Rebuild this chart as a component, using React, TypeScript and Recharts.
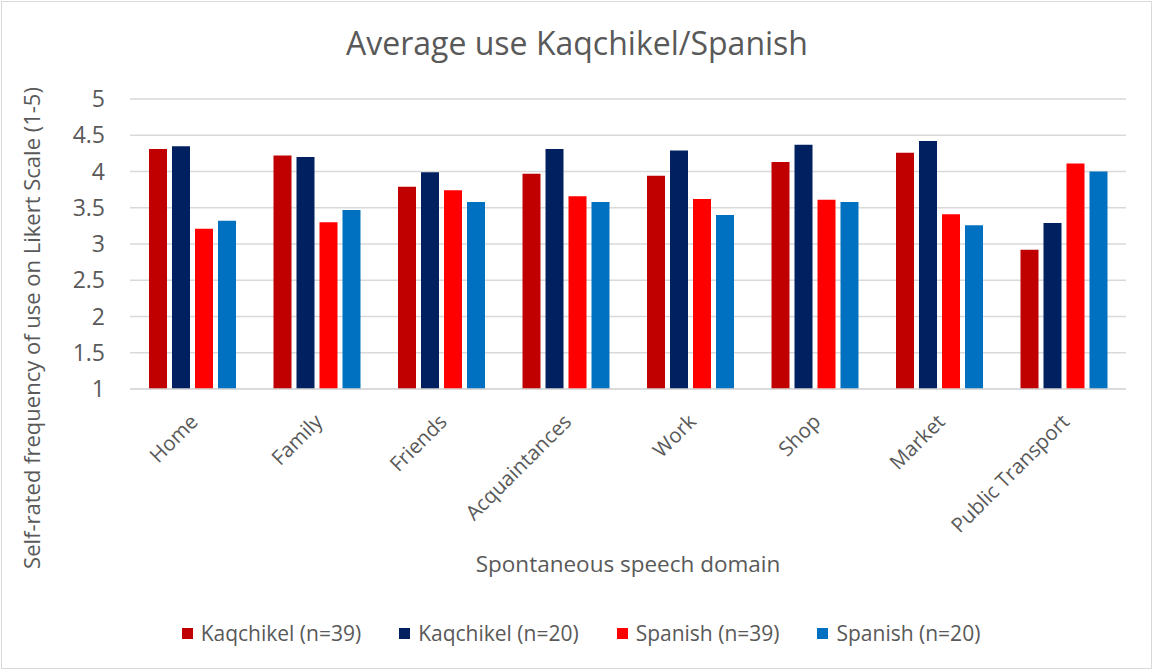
import React from 'react';
import { BarChart, Bar, XAxis, YAxis, CartesianGrid, Legend } from 'recharts';

const categories = ['Home', 'Family', 'Friends', 'Acquaintances', 'Work', 'Shop', 'Market', 'Public Transport'];
const kaqchikel39 = [4.31, 4.22, 3.79, 3.97, 3.94, 4.13, 4.26, 2.92];
const kaqchikel20 = [4.35, 4.2, 3.99, 4.31, 4.29, 4.37, 4.42, 3.29];
const spanish39 = [3.21, 3.3, 3.74, 3.66, 3.62, 3.61, 3.41, 4.11];
const spanish20 = [3.32, 3.47, 3.58, 3.58, 3.4, 3.58, 3.26, 4.0];
const yTicks = [1, 1.5, 2, 2.5, 3, 3.5, 4, 4.5, 5];

const seriesNames = ['Kaqchikel (n=39)', 'Kaqchikel (n=20)', 'Spanish (n=39)', 'Spanish (n=20)'];
const seriesColors = ['#C00000', '#002060', '#FF0000', '#0070C0'];

const data = categories.map((c, i) => ({
  name: c,
  k39: kaqchikel39[i],
  k20: kaqchikel20[i],
  s39: spanish39[i],
  s20: spanish20[i],
}));

const FONT = '"Open Sans", sans-serif';
const TEXT = '#595959';

const XTick = (props: any) => {
  const { x, y, payload } = props;
  const ax = x + 7;
  const ay = y + 32;
  return (
    <text
      x={ax}
      y={ay}
      textAnchor="end"
      fill={TEXT}
      fontSize={20.5}
      fontFamily={FONT}
      transform={`rotate(-45, ${ax}, ${ay})`}
    >
      {payload.value}
    </text>
  );
};

const LegendContent = () => (
  <div
    style={{
      display: 'flex',
      justifyContent: 'center',
      alignItems: 'center',
      height: 36,
      fontFamily: FONT,
      fontSize: 21,
      color: TEXT,
      paddingLeft: 36,
    }}
  >
    {seriesNames.map((n, i) => (
      <div key={n} style={{ display: 'flex', alignItems: 'center', marginLeft: i === 0 ? 0 : 38 }}>
        <div style={{ width: 11, height: 11, background: seriesColors[i], marginRight: 8 }} />
        <span>{n}</span>
      </div>
    ))}
  </div>
);

export default function App() {
  return (
    <div style={{ position: 'absolute', left: 0, top: 0, width: 1154, height: 671, background: '#fff' }}>
      <div
        style={{
          position: 'absolute',
          left: 1,
          top: 1,
          width: 1151,
          height: 668,
          border: '1px solid #d9d9d9',
          boxSizing: 'border-box',
          pointerEvents: 'none',
        }}
      />
      <div
        style={{
          position: 'absolute',
          left: 0,
          top: 27,
          width: 1154,
          textAlign: 'center',
          fontFamily: FONT,
          fontSize: 32,
          lineHeight: '32px',
          color: TEXT,
        }}
      >
        Average use Kaqchikel/Spanish
      </div>
      <BarChart
        width={1154}
        height={671}
        data={data}
        margin={{ top: 99, right: 28, left: 0, bottom: 20 }}
        barSize={18}
        barGap={5}
      >
        <CartesianGrid vertical={false} stroke="#d9d9d9" strokeWidth={1.5} />
        <XAxis
          dataKey="name"
          height={226}
          tick={<XTick />}
          tickLine={false}
          axisLine={{ stroke: '#d9d9d9', strokeWidth: 1.5 }}
          tickSize={0}
          interval={0}
          label={{
            content: (p: any) => {
              const vb = p.viewBox;
              return (
                <text
                  x={vb.x + vb.width / 2}
                  y={vb.y + 174}
                  textAnchor="middle"
                  dominantBaseline="central"
                  fill={TEXT}
                  fontSize={22.5}
                  fontFamily={FONT}
                >
                  Spontaneous speech domain
                </text>
              );
            },
          }}
        />
        <YAxis
          width={130}
          domain={[1, 5]}
          ticks={yTicks}
          axisLine={false}
          tickLine={false}
          tickSize={0}
          tickMargin={25}
          tick={{ fill: TEXT, fontSize: 23, fontFamily: FONT }}
          label={{
            content: () => (
              <text
                x={31}
                y={328}
                textAnchor="middle"
                dominantBaseline="central"
                fill={TEXT}
                fontSize={22}
                fontFamily={FONT}
                transform="rotate(-90, 31, 328)"
              >
                Self-rated frequency of use on Likert Scale (1-5)
              </text>
            ),
          }}
        />
        <Legend verticalAlign="bottom" content={<LegendContent />} wrapperStyle={{ height: 36 }} />
        <Bar dataKey="k39" name={seriesNames[0]} fill={seriesColors[0]} isAnimationActive={false} />
        <Bar dataKey="k20" name={seriesNames[1]} fill={seriesColors[1]} isAnimationActive={false} />
        <Bar dataKey="s39" name={seriesNames[2]} fill={seriesColors[2]} isAnimationActive={false} />
        <Bar dataKey="s20" name={seriesNames[3]} fill={seriesColors[3]} isAnimationActive={false} />
      </BarChart>
    </div>
  );
}
